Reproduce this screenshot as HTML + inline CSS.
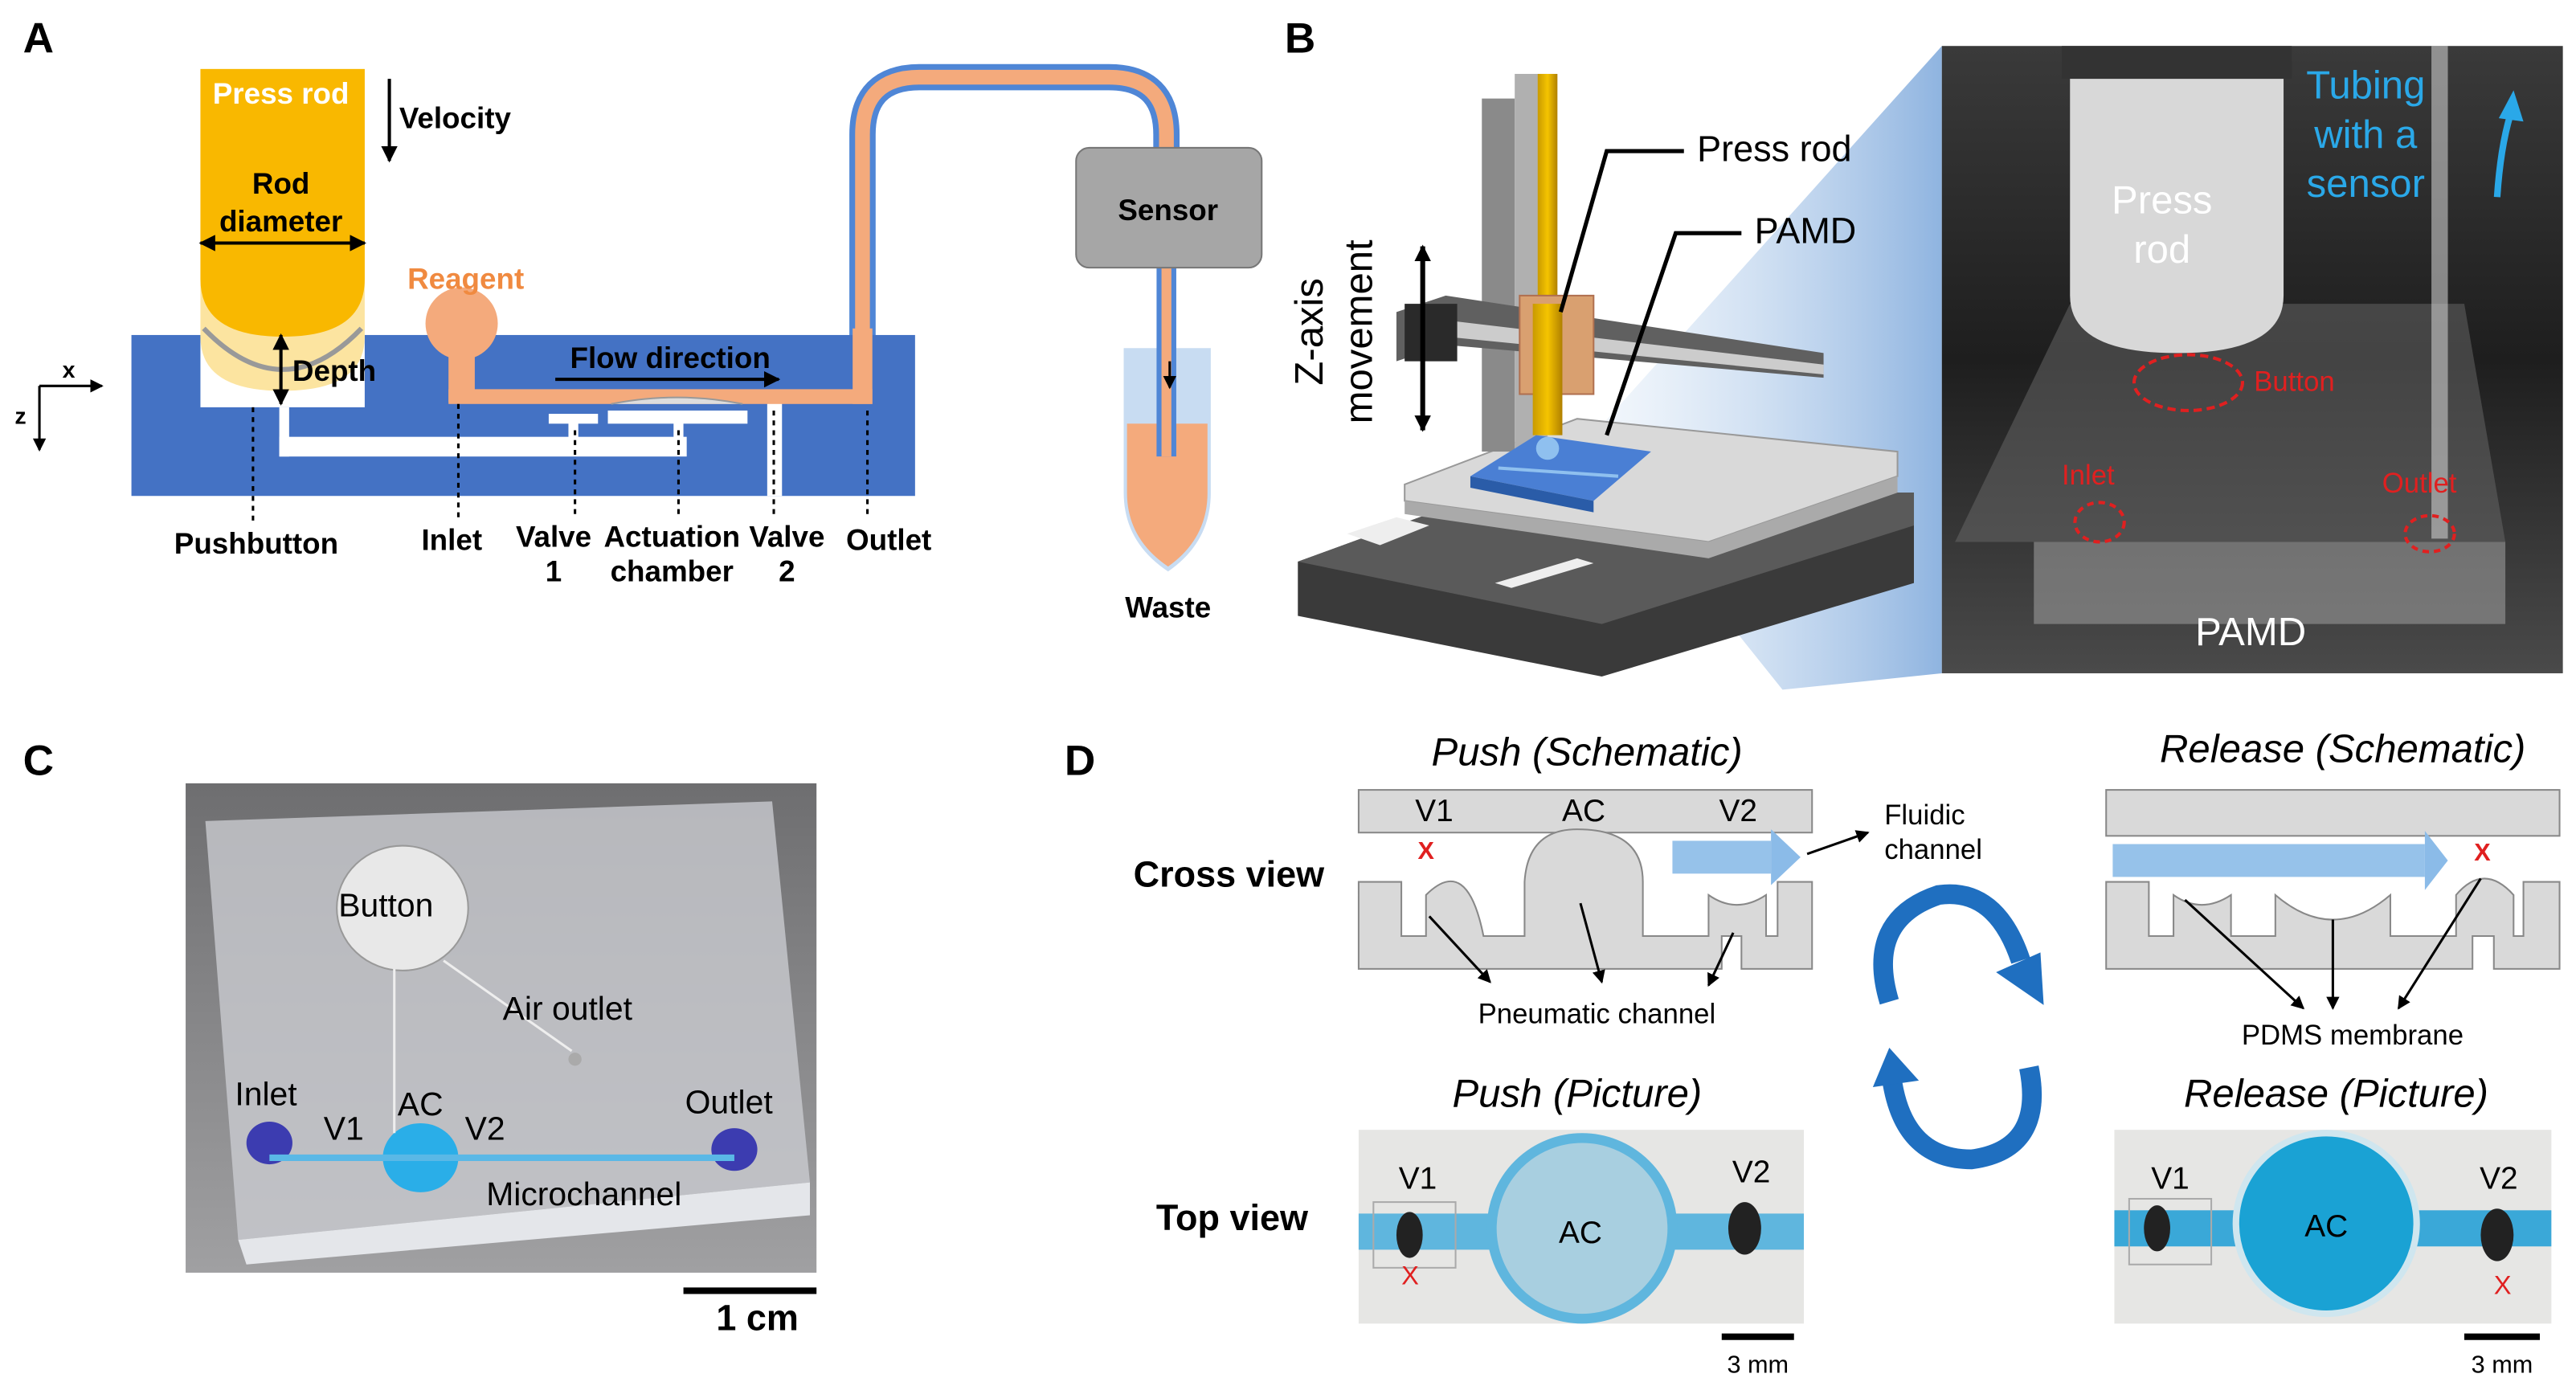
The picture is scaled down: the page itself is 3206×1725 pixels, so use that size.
<!DOCTYPE html>
<html><head><meta charset="utf-8"><style>
html,body{margin:0;padding:0;background:#fff}
svg{display:block}
text{font-family:"Liberation Sans",sans-serif}
.b{font-weight:bold}
</style></head><body>
<svg width="3206" height="1725" viewBox="0 0 1568 844" preserveAspectRatio="none" xmlns="http://www.w3.org/2000/svg">
<defs>
<linearGradient id="wedge" x1="0" x2="1"><stop offset="0" stop-color="#dbe8f6" stop-opacity="0.3"/><stop offset="1" stop-color="#8fb4e0"/></linearGradient>
<linearGradient id="photoB" x1="0" y1="0" x2="0" y2="1"><stop offset="0" stop-color="#3a3a3a"/><stop offset="0.5" stop-color="#1e1e1e"/><stop offset="1" stop-color="#4a4a4a"/></linearGradient>
<linearGradient id="photoC" x1="0" y1="0" x2="0" y2="1"><stop offset="0" stop-color="#6e6e70"/><stop offset="1" stop-color="#a0a0a2"/></linearGradient>
<linearGradient id="rodg" x1="0" x2="1"><stop offset="0" stop-color="#c99a00"/><stop offset="0.5" stop-color="#f5c400"/><stop offset="1" stop-color="#b08000"/></linearGradient>
<marker id="ar" markerUnits="userSpaceOnUse" markerWidth="10" markerHeight="10" refX="9" refY="5" orient="auto-start-reverse"><path d="M0,0 L10,5 L0,10 z" fill="#000"/></marker>
<marker id="arb" markerUnits="userSpaceOnUse" markerWidth="8" markerHeight="8" refX="7" refY="4" orient="auto-start-reverse"><path d="M0,0 L8,4 L0,8 z" fill="#000"/></marker>
</defs>

<!-- ===== Panel A ===== -->
<text x="14" y="32" font-size="26" class="b">A</text>
<path d="M525 240 V82 Q525 47 560 47 H675 Q710 47 710 82 V92" fill="none" stroke="#4f86d6" stroke-width="16"/>
<path d="M525 240 V82 Q525 47 560 47 H675 Q710 47 710 82 V92" fill="none" stroke="#f4aa7c" stroke-width="9"/>
<path d="M684 212 H737 V300 Q737 330 711 348 Q684 330 684 300 Z" fill="#c8dcf2"/>
<path d="M686 258 H735 V300 Q735 328 711 345 Q686 328 686 300 Z" fill="#f4aa7c"/>
<path d="M710 160 V278" stroke="#4f86d6" stroke-width="12"/>
<path d="M710 160 V278" stroke="#f4aa7c" stroke-width="6"/>
<path d="M712 220 V236" stroke="#000" stroke-width="1.5" marker-end="url(#arb)"/>
<rect x="655" y="90" width="113" height="73" rx="8" fill="#a6a6a6" stroke="#777"/>
<text x="711" y="134" font-size="18" class="b" text-anchor="middle">Sensor</text>
<text x="711" y="376" font-size="18" class="b" text-anchor="middle">Waste</text>
<rect x="80" y="204" width="477" height="98" fill="#4472c4"/>
<rect x="122" y="204" width="100" height="44" fill="#fff"/>
<rect x="170" y="248" width="6" height="30" fill="#fff"/>
<rect x="170" y="266" width="248" height="12" fill="#fff"/>
<rect x="346" y="255" width="6" height="14" fill="#fff"/>
<rect x="334" y="252" width="30" height="6" fill="#fff"/>
<rect x="410" y="255" width="6" height="14" fill="#fff"/>
<rect x="370" y="250" width="85" height="8" fill="#fff"/>
<rect x="467" y="245" width="9" height="57" fill="#fff"/>
<circle cx="281" cy="197" r="22" fill="#f4aa7c"/>
<rect x="273" y="197" width="16" height="48" fill="#f4aa7c"/>
<rect x="273" y="237" width="258" height="9" fill="#f4aa7c"/>
<rect x="519" y="200" width="12" height="46" fill="#f4aa7c"/>
<path d="M372 246 Q412 238 452 246" fill="#ddd" stroke="#999"/>
<path d="M122 42 H222 V205 Q222 238 172 238 Q122 238 122 205 Z" fill="#fce4a0"/>
<path d="M122 42 H222 V170 Q222 205 172 205 Q122 205 122 170 Z" fill="#f9b800"/>
<path d="M124 200 Q172 250 220 200" fill="none" stroke="#999" stroke-width="3"/>
<text x="171" y="63" font-size="18" class="b" fill="#fff" text-anchor="middle">Press rod</text>
<text x="171" y="118" font-size="18" class="b" text-anchor="middle">Rod</text>
<text x="171" y="141" font-size="18" class="b" text-anchor="middle">diameter</text>
<line x1="122" y1="148" x2="222" y2="148" stroke="#000" stroke-width="2" marker-end="url(#ar)" marker-start="url(#ar)"/>
<line x1="237" y1="48" x2="237" y2="98" stroke="#000" stroke-width="2" marker-end="url(#ar)"/>
<text x="243" y="78" font-size="18" class="b">Velocity</text>
<line x1="171" y1="204" x2="171" y2="246" stroke="#000" stroke-width="2" marker-end="url(#ar)" marker-start="url(#ar)"/>
<text x="178" y="232" font-size="18" class="b">Depth</text>
<text x="248" y="176" font-size="18" class="b" fill="#f08a40">Reagent</text>
<text x="347" y="224" font-size="18" class="b">Flow direction</text>
<line x1="338" y1="231" x2="474" y2="231" stroke="#000" stroke-width="2" marker-end="url(#ar)"/>
<line x1="24" y1="235" x2="62" y2="235" stroke="#000" stroke-width="1.5" marker-end="url(#arb)"/>
<line x1="24" y1="235" x2="24" y2="274" stroke="#000" stroke-width="1.5" marker-end="url(#arb)"/>
<text x="38" y="230" font-size="14" class="b">x</text>
<text x="9" y="258" font-size="14" class="b">z</text>
<g stroke="#000" stroke-width="1.5" stroke-dasharray="3,3">
<line x1="154" y1="248" x2="154" y2="318"/><line x1="279" y1="246" x2="279" y2="316"/>
<line x1="350" y1="262" x2="350" y2="314"/><line x1="413" y1="262" x2="413" y2="314"/>
<line x1="471" y1="250" x2="471" y2="314"/><line x1="528" y1="250" x2="528" y2="316"/>
</g>
<g font-size="18" class="b" text-anchor="middle">
<text x="156" y="337">Pushbutton</text><text x="275" y="335">Inlet</text>
<text x="337" y="333">Valve</text><text x="337" y="354">1</text>
<text x="409" y="333">Actuation</text><text x="409" y="354">chamber</text>
<text x="479" y="333">Valve</text><text x="479" y="354">2</text>
<text x="541" y="335">Outlet</text>
</g>

<!-- ===== Panel B ===== -->
<text x="782" y="32" font-size="26" class="b">B</text>
<path d="M965 270 L1182 28 V410 L1085 420 Z" fill="url(#wedge)"/>
<path d="M790 342 L905 300 L1165 300 L1165 355 L975 412 L790 375 Z" fill="#3a3a3a"/>
<path d="M790 342 L975 380 L1165 320 L1165 300 L905 300 Z" fill="#5a5a5a"/>
<path d="M820 325 L850 315 L870 320 L840 332 Z" fill="#eee"/>
<path d="M910 355 L960 340 L970 343 L920 358 Z" fill="#eee"/>
<path d="M855 295 L960 255 L1155 275 L1155 290 L1040 330 L855 305 Z" fill="#d9d9d9" stroke="#999"/>
<path d="M855 305 L1040 330 L1155 290 L1155 300 L1040 340 L855 313 Z" fill="#aaa"/>
<rect x="902" y="60" width="20" height="215" fill="#8a8a8a"/>
<rect x="922" y="45" width="20" height="230" fill="#b0b0b0"/>
<path d="M850 190 L880 180 L1110 215 L1110 230 L880 210 L850 220 Z" fill="#606060"/>
<path d="M880 195 L1110 222 L1110 228 L880 205 Z" fill="#ccc"/>
<rect x="855" y="185" width="32" height="35" fill="#2a2a2a"/>
<rect x="936" y="45" width="12" height="140" fill="url(#rodg)"/>
<rect x="925" y="180" width="45" height="60" fill="#d9a070" stroke="#b07050"/>
<rect x="933" y="185" width="18" height="80" fill="url(#rodg)"/>
<path d="M895 290 L935 265 L1005 275 L970 305 Z" fill="#4a7fd4"/>
<path d="M895 290 L970 305 L970 312 L895 297 Z" fill="#2a5ca8"/>
<circle cx="942" cy="273" r="7" fill="#8fc0ef"/>
<line x1="912" y1="285" x2="985" y2="290" stroke="#8fc0ef" stroke-width="2"/>
<polyline points="1025,92 978,92 950,190" fill="none" stroke="#000" stroke-width="2.5"/>
<polyline points="1060,142 1020,142 978,265" fill="none" stroke="#000" stroke-width="2.5"/>
<text x="1033" y="98" font-size="22">Press rod</text>
<text x="1068" y="148" font-size="22">PAMD</text>
<line x1="866" y1="150" x2="866" y2="262" stroke="#000" stroke-width="3" marker-end="url(#ar)" marker-start="url(#ar)"/>
<text transform="translate(805,202) rotate(-90)" font-size="24" text-anchor="middle">Z-axis</text>
<text transform="translate(835,202) rotate(-90)" font-size="24" text-anchor="middle">movement</text>
<rect x="1182" y="28" width="378" height="382" fill="url(#photoB)"/>
<path d="M1190 330 L1260 185 L1500 185 L1525 330 Z" fill="#6a6a6a" opacity="0.5"/>
<path d="M1238 330 H1525 V380 H1238 Z" fill="#999" opacity="0.6"/>
<path d="M1260 30 H1390 V180 Q1390 215 1325 215 Q1260 215 1260 180 Z" fill="#d8d8d8"/>
<rect x="1255" y="28" width="140" height="20" fill="#333"/>
<rect x="1480" y="28" width="10" height="300" fill="#ccc" opacity="0.6"/>
<ellipse cx="1332" cy="233" rx="33" ry="17" fill="none" stroke="#e02020" stroke-width="2" stroke-dasharray="5,3"/>
<ellipse cx="1278" cy="318" rx="15" ry="12" fill="none" stroke="#e02020" stroke-width="2" stroke-dasharray="4,3"/>
<ellipse cx="1479" cy="325" rx="15" ry="11" fill="none" stroke="#e02020" stroke-width="2" stroke-dasharray="4,3"/>
<text x="1316" y="130" font-size="24" fill="#fff" text-anchor="middle">Press</text>
<text x="1316" y="160" font-size="24" fill="#fff" text-anchor="middle">rod</text>
<text x="1372" y="238" font-size="17" fill="#e02020">Button</text>
<text x="1255" y="295" font-size="17" fill="#e02020">Inlet</text>
<text x="1450" y="300" font-size="17" fill="#e02020">Outlet</text>
<text x="1440" y="60" font-size="24" fill="#2aa8e8" text-anchor="middle">Tubing</text>
<text x="1440" y="90" font-size="24" fill="#2aa8e8" text-anchor="middle">with a</text>
<text x="1440" y="120" font-size="24" fill="#2aa8e8" text-anchor="middle">sensor</text>
<path d="M1520 120 Q1522 90 1528 70" fill="none" stroke="#2aa8e8" stroke-width="4"/>
<path d="M1521 72 L1530 55 L1536 74 Z" fill="#2aa8e8"/>
<text x="1370" y="393" font-size="24" fill="#fff" text-anchor="middle">PAMD</text>

<!-- ===== Panel C ===== -->
<text x="14" y="472" font-size="26" class="b">C</text>
<rect x="113" y="477" width="384" height="298" fill="url(#photoC)"/>
<path d="M125 500 L470 488 L493 720 L145 755 Z" fill="#c9cbcf" opacity="0.8"/>
<path d="M145 755 L493 720 L493 740 L150 770 Z" fill="#e4e6ea"/>
<ellipse cx="245" cy="553" rx="40" ry="38" fill="#e8e8e8" stroke="#999"/>
<ellipse cx="164" cy="696" rx="14" ry="13" fill="#3c3cb0"/>
<ellipse cx="256" cy="705" rx="23" ry="21" fill="#2aaee8"/>
<ellipse cx="447" cy="700" rx="14" ry="13" fill="#3c3cb0"/>
<line x1="164" y1="705" x2="447" y2="705" stroke="#5ab8e6" stroke-width="4"/>
<circle cx="350" cy="645" r="4" fill="#aaa"/>
<line x1="240" y1="590" x2="240" y2="690" stroke="#eee" stroke-width="1.5"/>
<line x1="270" y1="585" x2="348" y2="640" stroke="#eee" stroke-width="1.5"/>
<g font-size="20">
<text x="206" y="558">Button</text><text x="306" y="621">Air outlet</text>
<text x="143" y="673">Inlet</text><text x="197" y="694">V1</text><text x="242" y="679">AC</text><text x="283" y="694">V2</text>
<text x="417" y="678">Outlet</text><text x="296" y="734">Microchannel</text>
</g>
<line x1="416" y1="786" x2="497" y2="786" stroke="#000" stroke-width="4"/>
<text x="461" y="810" font-size="22" class="b" text-anchor="middle">1 cm</text>

<!-- ===== Panel D ===== -->
<text x="648" y="472" font-size="26" class="b">D</text>
<g font-size="24" font-style="italic" text-anchor="middle">
<text x="966" y="466">Push (Schematic)</text>
<text x="1426" y="464">Release (Schematic)</text>
<text x="960" y="674">Push (Picture)</text>
<text x="1422" y="674">Release (Picture)</text>
</g>
<text x="748" y="540" font-size="22" class="b" text-anchor="middle">Cross view</text>
<text x="750" y="749" font-size="22" class="b" text-anchor="middle">Top view</text>
<g fill="#d9d9d9" stroke="#888">
<rect x="827" y="481" width="276" height="26"/>
<path d="M827 537 H853 V570 H868 V545 Q893 520 903 570 V570 H928 V537 Q930 505 960 505 Q1000 505 1000 537 V570 H1040 V545 Q1057 557 1075 545 V570 H1082 V537 H1103 V590 H1060 V570 H1048 V590 H827 Z"/>
</g>
<rect x="1018" y="512" width="60" height="20" fill="#8bbbe8" opacity="0.9"/>
<path d="M1078 505 L1096 522 L1078 539 Z" fill="#8bbbe8"/>
<text x="863" y="523" font-size="15" fill="#e02020" class="b">X</text>
<g font-size="19" text-anchor="middle"><text x="873" y="500">V1</text><text x="964" y="500">AC</text><text x="1058" y="500">V2</text>
<text x="1327" y="502">V1</text><text x="1424" y="500">AC</text><text x="1517" y="502">V2</text></g>
<line x1="1100" y1="520" x2="1137" y2="507" stroke="#000" stroke-width="1.5" marker-end="url(#arb)"/>
<text x="1147" y="502" font-size="17">Fluidic</text><text x="1147" y="523" font-size="17">channel</text>
<line x1="870" y1="558" x2="907" y2="598" stroke="#000" stroke-width="1.5" marker-end="url(#arb)"/>
<line x1="962" y1="550" x2="975" y2="598" stroke="#000" stroke-width="1.5" marker-end="url(#arb)"/>
<line x1="1055" y1="568" x2="1040" y2="600" stroke="#000" stroke-width="1.5" marker-end="url(#arb)"/>
<text x="972" y="623" font-size="17" text-anchor="middle">Pneumatic channel</text>
<g fill="#d9d9d9" stroke="#888">
<rect x="1282" y="481" width="276" height="28"/>
<path d="M1282 537 H1308 V570 H1323 V545 Q1340 557 1358 545 V570 H1385 V545 Q1420 575 1455 545 V570 H1495 V545 Q1512 525 1530 545 V570 H1536 V537 H1558 V590 H1518 V570 H1505 V590 H1282 Z"/>
</g>
<rect x="1286" y="514" width="190" height="20" fill="#8bbbe8" opacity="0.9"/>
<path d="M1476 506 L1490 524 L1476 542 Z" fill="#8bbbe8"/>
<text x="1506" y="524" font-size="15" fill="#e02020" class="b">X</text>
<line x1="1330" y1="548" x2="1402" y2="614" stroke="#000" stroke-width="1.5" marker-end="url(#arb)"/>
<line x1="1420" y1="560" x2="1420" y2="614" stroke="#000" stroke-width="1.5" marker-end="url(#arb)"/>
<line x1="1510" y1="535" x2="1460" y2="614" stroke="#000" stroke-width="1.5" marker-end="url(#arb)"/>
<text x="1432" y="636" font-size="17" text-anchor="middle">PDMS membrane</text>
<path d="M1150 610 Q1135 560 1180 545 Q1215 540 1230 585" fill="none" stroke="#1f6fc0" stroke-width="12"/>
<path d="M1215 592 L1244 612 L1242 580 Z" fill="#1f6fc0"/>
<path d="M1235 650 Q1245 700 1200 706 Q1160 706 1152 660" fill="none" stroke="#1f6fc0" stroke-width="12"/>
<path d="M1140 662 L1150 638 L1168 658 Z" fill="#1f6fc0"/>
<rect x="827" y="688" width="271" height="118" fill="#e6e6e4"/>
<rect x="827" y="739" width="271" height="22" fill="#5fb6de"/>
<circle cx="963" cy="748" r="55" fill="#a8cfe0" stroke="#5fb6de" stroke-width="6"/>
<ellipse cx="858" cy="752" rx="8" ry="14" fill="#222"/>
<ellipse cx="1062" cy="748" rx="10" ry="16" fill="#222"/>
<rect x="836" y="732" width="50" height="40" fill="none" stroke="#aaa"/>
<text x="853" y="782" font-size="16" fill="#e02020">X</text>
<g font-size="19" text-anchor="middle"><text x="863" y="724">V1</text><text x="962" y="757">AC</text><text x="1066" y="720">V2</text></g>
<rect x="1287" y="688" width="266" height="118" fill="#e6e6e4"/>
<rect x="1287" y="737" width="266" height="22" fill="#3aa8d8"/>
<circle cx="1416" cy="745" r="55" fill="#1aa2d4" stroke="#cfe6ef" stroke-width="4"/>
<ellipse cx="1313" cy="748" rx="8" ry="14" fill="#222"/>
<ellipse cx="1520" cy="752" rx="10" ry="16" fill="#222"/>
<rect x="1296" y="730" width="50" height="40" fill="none" stroke="#aaa"/>
<text x="1518" y="788" font-size="16" fill="#e02020">X</text>
<g font-size="19" text-anchor="middle"><text x="1321" y="724">V1</text><text x="1416" y="753">AC</text><text x="1521" y="724">V2</text></g>
<line x1="1048" y1="814" x2="1092" y2="814" stroke="#000" stroke-width="4"/>
<text x="1070" y="836" font-size="15" text-anchor="middle">3 mm</text>
<line x1="1500" y1="814" x2="1546" y2="814" stroke="#000" stroke-width="4"/>
<text x="1523" y="836" font-size="15" text-anchor="middle">3 mm</text>
</svg>
</body></html>
